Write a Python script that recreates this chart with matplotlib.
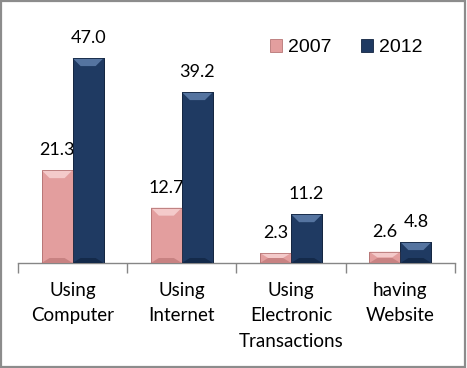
import numpy as np
import matplotlib.pyplot as plt
from matplotlib.patches import Rectangle, Polygon

categories = ['Using\nComputer', 'Using\nInternet', 'Using\nElectronic\nTransactions', 'having\nWebsite']
series_names = ['2007', '2012']
values_2007 = [21.3, 12.7, 2.3, 2.6]
values_2012 = [47.0, 39.2, 11.2, 4.8]

# face, top bevel, bottom bevel, edge
pink = ('#e39e9e', '#f4caca', '#c88282', '#b77676')
navy = ('#1f3a62', '#5574a0', '#142a4a', '#122440')

fig = plt.figure(figsize=(4.67, 3.68), dpi=100)
ax = fig.add_axes([0.0385, 0.2853, 0.9358, 0.5924])

x = np.arange(len(categories))
w = 0.284
px_x = 109.25   # pixels per category
px_y = 4.36     # pixels per unit


def bevel_bar(xc, h, cols):
    x0, x1 = xc - w / 2, xc + w / 2
    bx = min(8 / px_x, w / 2)
    by = min(8 / px_y, h / 2)
    ax.add_patch(Rectangle((x0, 0), w, h, facecolor=cols[0], edgecolor=cols[3],
                           linewidth=0.6, zorder=2))
    # top bevel
    ax.add_patch(Polygon([(x0, h), (x1, h), (x1 - bx, h - by), (x0 + bx, h - by)],
                         closed=True, facecolor=cols[1], edgecolor='none', zorder=3))
    # bottom bevel
    by2 = min(5 / px_y, h / 2)
    ax.add_patch(Polygon([(x0, 0), (x1, 0), (x1 - bx, by2), (x0 + bx, by2)],
                         closed=True, facecolor=cols[2], edgecolor='none', zorder=3))
    ax.add_patch(Rectangle((x0, 0), w, h, facecolor='none', edgecolor=cols[3],
                           linewidth=0.6, zorder=4))
    ax.annotate(f'{h:.1f}', (xc, h), xytext=(0, 14.4), textcoords='offset points',
                ha='center', va='center', fontsize=13, family='Lato', color='black')


for i in range(len(categories)):
    bevel_bar(x[i] - w / 2, values_2007[i], pink)
    bevel_bar(x[i] + w / 2, values_2012[i], navy)

ax.set_xlim(-0.5, 3.5)
ax.set_ylim(0, 50)
for s in ['top', 'right', 'left']:
    ax.spines[s].set_visible(False)
ax.spines['bottom'].set_color('#868686')
ax.spines['bottom'].set_linewidth(1.0)
ax.set_yticks([])
ax.set_xticks(np.arange(-0.5, 4.0, 1.0))
ax.set_xticklabels([])
ax.tick_params(axis='x', which='major', length=7, color='#868686', width=1.0)
ax.set_xticks(x, minor=True)
ax.set_xticklabels(categories, minor=True, fontsize=13.5, family='Lato', linespacing=1.6)
ax.tick_params(axis='x', which='minor', length=0, pad=13.5)

handles = [Rectangle((0, 0), 1, 1, facecolor=pink[0], edgecolor=pink[3], linewidth=0.6),
           Rectangle((0, 0), 1, 1, facecolor=navy[0], edgecolor=navy[3], linewidth=0.6)]
fig.legend(handles, series_names, loc='center left', bbox_to_anchor=(0.54, 0.87),
           ncol=2, frameon=False, handlelength=0.65, handleheight=0.65,
           handletextpad=0.3, columnspacing=1.5,
           prop={'family': 'Liberation Sans', 'size': 14})

fig.patches.append(Rectangle((0.003, 0.004), 0.993, 0.992, transform=fig.transFigure,
                             fill=False, edgecolor='#8c8c8c', linewidth=1.6))

fig.savefig('out.png', dpi=100)
